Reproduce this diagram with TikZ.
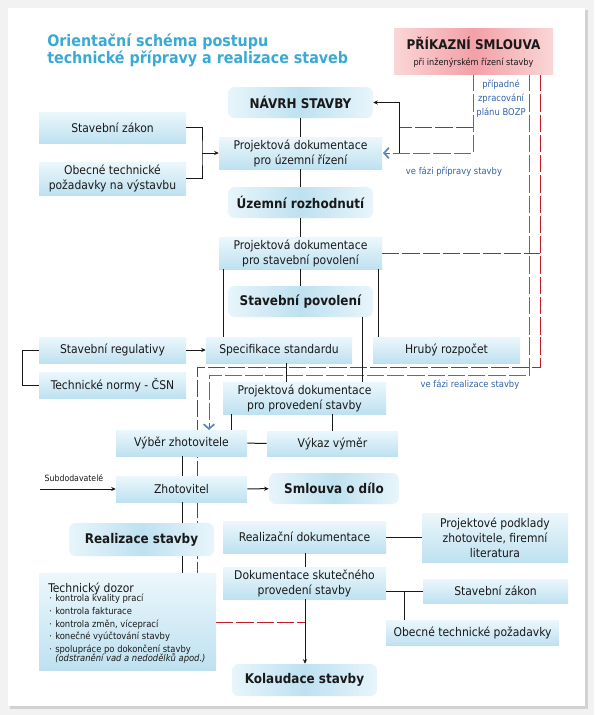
\documentclass[tikz,border=0pt]{standalone}
\usepackage{fontspec}
\setmainfont{DejaVu Sans Condensed}
\usetikzlibrary{arrows.meta,calc}
\definecolor{ttl}{RGB}{58,170,212}
\definecolor{rline}{RGB}{195,28,38}
\definecolor{bline}{RGB}{75,112,165}
\definecolor{barrow}{RGB}{90,136,192}
\definecolor{btext}{RGB}{50,100,170}
\definecolor{bxtop}{RGB}{236,247,252}
\definecolor{bxbot}{RGB}{190,225,240}
\definecolor{rdside}{RGB}{232,245,251}
\definecolor{rdmid}{RGB}{190,225,240}
\definecolor{pkside}{RGB}{250,214,214}
\definecolor{pkmid}{RGB}{243,160,168}
\definecolor{txt}{RGB}{25,25,25}
\newcommand\bx[7]{\node[#6, minimum width={(#4-#2)*0.75pt}, minimum height={(#5-#3)*0.75pt}] (#1) at ({(#2+#4)/2},{(#3+#5)/2}) {#7};}
\tikzset{
  boxst/.style={rectangle, inner sep=0pt, top color=bxtop, bottom color=bxbot, align=center, text=txt,
    font=\fontsize{9}{11.25}\selectfont},
  roundst/.style={rectangle, rounded corners=5pt, inner sep=0pt, left color=rdside, right color=rdside, middle color=rdmid,
    align=center, text=txt, font=\fontsize{10}{12}\selectfont\bfseries},
  pinkst/.style={rectangle, inner sep=0pt, left color=pkside, right color=pkside, middle color=pkmid},
  conn/.style={draw=txt, line width=0.75pt},
  arr/.style={conn, -{Stealth[length=3.5pt,width=3.2pt,inset=1.2pt]}},
  reddash/.style={draw=rline, line width=0.75pt, dash pattern=on 13pt off 2.2pt},
  bluedash/.style={draw=bline, line width=0.75pt, dash pattern=on 13pt off 2.2pt},
  chev/.style={-{Straight Barb[length=3.5pt,width=8pt,line width=1.3pt,color=barrow]}},
  bluetxt/.style={text=btext, font=\fontsize{7}{10.5}\selectfont, align=center, inner sep=0pt},
  titlest/.style={anchor=base west, inner sep=0pt, text=ttl, font=\fontsize{11.9}{14}\selectfont\bfseries},
}
\begin{document}
\begin{tikzpicture}[x=0.75pt,y=-0.75pt]
\useasboundingbox (0,0) rectangle (594,715);
\fill[gray!10] (0,0) rectangle (594,715);
\fill[gray!35] (10,10) rectangle (588,709);
\fill[white] (8,8) rectangle (585,706);

% title
\node[titlest] (t1) at (47,46) {Orientační schéma postupu};
\node[titlest] (t2) at (47,63) {technické přípravy a realizace staveb};

% helper coordinates
\coordinate (x182) at (182,0);
\coordinate (x197) at (197,0);
\coordinate (x209) at (209,0);
\coordinate (x223) at (223,0);
\coordinate (x231) at (231,0);
\coordinate (x286) at (286,0);
\coordinate (x332) at (332,0);
\coordinate (x362) at (362,0);
\coordinate (x378) at (378,0);
\coordinate (x399) at (399,0);
\coordinate (x404) at (404,0);
\coordinate (x473) at (473,0);
\coordinate (x529) at (529,0);
\coordinate (x540) at (540,0);
\coordinate (x305) at (305,0);
\coordinate (j1) at (202,153);
\coordinate (y127) at (0,127);
\coordinate (y153) at (0,153);
\coordinate (y253) at (0,253);
\coordinate (y367) at (0,367);
\coordinate (y375) at (0,375);
\coordinate (y622) at (0,622);

% dashed lines (behind boxes)
\path[reddash] (x540 |- 0,74) -- (x540 |- y367) -- (x197 |- y367) -- (x197 |- 0,573);
\path[reddash] (382,253) -- (x540 |- y253);
\path[reddash] (x473 |- y127) -- (x399 |- y127);
\path[reddash] (216,622) -- (x305 |- y622);
\path[bluedash, chev] (x473 |- 0,74) -- (x473 |- y153) -- (383,153);
\path[bluedash, chev] (x529 |- 0,74) -- (x529 |- y375) -- (x209 |- y375) -- (x209 |- 0,430);

% boxes
\bx{prik}{394}{28}{553}{74}{pinkst}{}
\node[inner sep=0pt, text=txt, font=\fontsize{10}{12}\selectfont\bfseries] (prik1) at (473.5,43) {PŘÍKAZNÍ SMLOUVA};
\node[inner sep=0pt, text=txt, font=\fontsize{6.8}{8}\selectfont] (prik2) at (473.5,63) {při inženýrském řízení stavby};

\bx{nav}{228}{87}{373}{118}{roundst}{NÁVRH STAVBY}
\bx{pduz}{219}{137}{382}{169}{boxst}{Projektová dokumentace\\pro územní řízení}
\bx{uzr}{228}{187}{373}{218}{roundst}{Územní rozhodnutí}
\bx{pdsp}{219}{237}{382}{269}{boxst}{Projektová dokumentace\\pro stavební povolení}
\bx{stp}{228}{286}{373}{317}{roundst}{Stavební povolení}
\bx{spec}{206}{337}{352}{363}{boxst}{Specifikace standardu}
\bx{hrub}{373}{337}{520}{363}{boxst}{Hrubý rozpočet}
\bx{sreg}{39}{337}{186}{363}{boxst}{Stavební regulativy}
\bx{tnorm}{39}{372}{186}{398}{boxst}{Technické normy - ČSN}
\bx{pdpr}{223}{382}{386}{414}{boxst}{Projektová dokumentace\\pro provedení stavby}
\bx{vyb}{116}{430}{247}{456}{boxst}{Výběr zhotovitele}
\bx{vykaz}{267}{431}{398}{456}{boxst}{Výkaz výměr}
\bx{zhot}{116}{476}{247}{502}{boxst}{Zhotovitel}
\bx{smlouva}{269}{473}{399}{504}{roundst}{Smlouva o dílo}
\bx{real}{69}{523}{214}{556}{roundst}{Realizace stavby}
\bx{rdok}{223}{521}{386}{553}{boxst}{Realizační dokumentace}
\bx{dskut}{223}{567}{386}{599}{boxst}{Dokumentace skutečného\\provedení stavby}
\bx{ppod}{422}{513}{568}{562}{boxst}{Projektové podklady\\zhotovitele, firemní\\literatura}
\bx{szB}{423}{579}{568}{603}{boxst}{Stavební zákon}
\bx{otpB}{386}{620}{559}{645}{boxst}{Obecné technické požadavky}
\bx{tdoz}{39}{573}{216}{670}{boxst}{}
\bx{kol}{232}{664}{377}{696}{roundst}{Kolaudace stavby}
\bx{szA}{39}{112}{186}{143}{boxst}{Stavební zákon}
\bx{otpA}{39}{162}{186}{195}{boxst}{Obecné technické\\požadavky na výstavbu}

% Technicky dozor text
\node[anchor=base west, inner sep=0pt, text=txt, font=\fontsize{9}{11}\selectfont] (td0) at (48,592) {Technický dozor};
\tikzset{tdi/.style={anchor=base west, inner sep=0pt, text=txt, font=\fontsize{7}{8}\selectfont}}
\node[tdi] (td1) at (49,601) {\makebox[4.5pt][l]{·}kontrola kvality prací};
\node[tdi] (td2) at (49,614) {\makebox[4.5pt][l]{·}kontrola fakturace};
\node[tdi] (td3) at (49,627) {\makebox[4.5pt][l]{·}kontrola změn, víceprací};
\node[tdi] (td4) at (49,639.5) {\makebox[4.5pt][l]{·}konečné vyúčtování stavby};
\node[tdi] (td5) at (49,652) {\makebox[4.5pt][l]{·}spolupráce po dokončení stavby};
\node[tdi] (td6) at (49,661) {\hspace{4.5pt}\itshape (odstranění vad a nedodělků apod.)};

% blue labels
\node[bluetxt] (bozp) at (501,99) {případné\\zpracování\\plánu BOZP};
\node[bluetxt] (vfp) at (454,172) {ve fázi přípravy stavby};
\node[bluetxt] (vfr) at (470,385) {ve fázi realizace stavby};
\node[inner sep=0pt, text=txt, font=\fontsize{6.5}{8}\selectfont] (subd) at (74,478) {Subdodavatelé};
\coordinate (subs) at (40,489);

% black connectors
\draw[conn] (szA.east) -| (j1) |- (otpA.east);
\draw[arr] (j1) -- (pduz.west);
\draw[conn] (nav) -- (pduz);
\draw[conn] (pduz) -- (uzr);
\draw[conn] (uzr) -- (pdsp);
\draw[conn] (x223 |- pdsp.south) -- (x223 |- spec.north);
\draw[conn] (pdsp) -- (stp);
\draw[conn] (x378 |- pdsp.south) -- (x378 |- hrub.north);
\draw[arr] (sreg) -- (spec);
\draw[conn] (sreg.west) -- ++(-16,0) |- (tnorm.west);
\draw[conn] (x286 |- spec.south) -- (x286 |- pdpr.north);
\draw[conn] (x362 |- stp.south) -- (x362 |- pdpr.north);
\draw[conn] (x231 |- pdpr.south) -- (x231 |- vyb.north);
\draw[conn] (x332 |- pdpr.south) -- (x332 |- vykaz.north);
\draw[conn] (vyb) -- (vykaz);
\draw[conn] (x182 |- vyb.south) -- (x182 |- zhot.north);
\draw[arr] (subs) -- (zhot.west);
\draw[arr] (zhot) -- (smlouva);
\draw[conn] (x182 |- zhot.south) -- (x182 |- real.north);
\draw[conn] (x182 |- real.south) -- (x182 |- tdoz.north);
\draw[conn] (rdok.east) -- (rdok.east -| ppod.west);
\draw[conn] (x305 |- rdok.south) -- (x305 |- dskut.north);
\draw[arr] (x305 |- dskut.south) -- (x305 |- kol.north);
\draw[conn] (dskut.east |- szB.west) -- (szB.west);
\draw[conn] (x404 |- szB.west) -- (x404 |- otpB.north);
\draw[arr] (x399 |- y153) |- (nav.east);
\end{tikzpicture}
\end{document}
